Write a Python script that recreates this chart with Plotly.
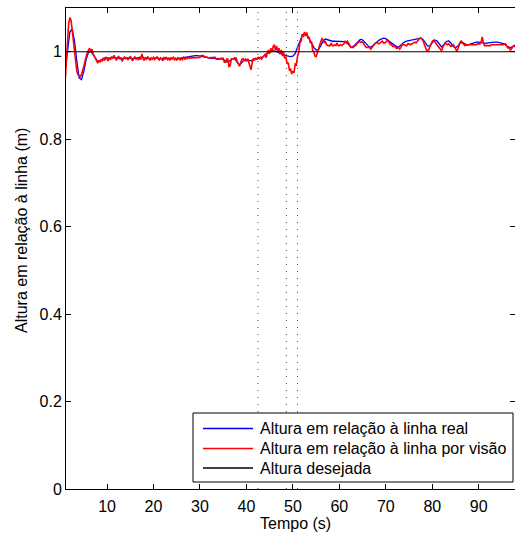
import numpy as np
import plotly.graph_objects as go

# ---- data -------------------------------------------------------------
# Height of the vehicle above the line, measured by the reference sensor
# (sampled every 0.5 s starting at t = 1.0 s)
real_t0, real_dt = 1.0, 0.5
height_real = [
    0.958, 1.005, 1.045, 1.052, 1.025, 0.978, 0.940, 0.936, 0.955, 0.982,
    0.998, 1.001, 0.993, 0.983, 0.978, 0.979, 0.983, 0.986, 0.986, 0.985,
    0.986, 0.987, 0.986, 0.985, 0.984, 0.985, 0.986, 0.986, 0.985, 0.984,
    0.985, 0.986, 0.987, 0.988, 0.986, 0.985, 0.985, 0.984, 0.985, 0.986,
    0.985, 0.984, 0.985, 0.986, 0.985, 0.985, 0.986, 0.985, 0.984, 0.985,
    0.986, 0.986, 0.987, 0.988, 0.989, 0.990, 0.991, 0.991, 0.990, 0.989,
    0.987, 0.986, 0.986, 0.985, 0.985, 0.985, 0.985, 0.984, 0.982, 0.978,
    0.976, 0.980, 0.984, 0.983, 0.976, 0.969, 0.975, 0.981, 0.982, 0.981,
    0.979, 0.982, 0.984, 0.985, 0.986, 0.988, 0.992, 0.997, 1.000, 1.003,
    1.002, 1.000, 0.998, 0.995, 0.993, 0.991, 0.990, 0.989, 0.990, 0.996,
    1.010, 1.026, 1.037, 1.041, 1.038, 1.030, 1.020, 1.010, 1.004, 1.005,
    1.014, 1.024, 1.029, 1.027, 1.025, 1.024, 1.024, 1.024, 1.024, 1.023,
    1.023, 1.022, 1.016, 1.010, 1.012, 1.018, 1.024, 1.028, 1.027, 1.022,
    1.015, 1.010, 1.012, 1.017, 1.022, 1.026, 1.029, 1.031, 1.030, 1.026,
    1.021, 1.016, 1.012, 1.010, 1.013, 1.018, 1.022, 1.024, 1.025, 1.026,
    1.027, 1.028, 1.030, 1.031, 1.028, 1.020, 1.013, 1.014, 1.021, 1.027,
    1.025, 1.017, 1.011, 1.016, 1.023, 1.025, 1.020, 1.012, 1.009, 1.013,
    1.020, 1.021, 1.017, 1.015, 1.017, 1.019, 1.021, 1.022, 1.022, 1.021,
    1.020, 1.019, 1.020, 1.021, 1.022, 1.022, 1.022, 1.021, 1.020, 1.018,
    1.013, 1.009, 1.010, 1.014, 1.016,
]

# Height estimated by the vision system (sampled every 0.25 s from t = 1.0 s)
vision_t0, vision_dt = 1.0, 0.25
height_vision = [
    0.935, 0.975, 1.030, 1.065,  1.078, 1.072, 1.050, 1.025,   # 1-2
    1.000, 0.975, 0.955, 0.948,  0.944, 0.943, 0.948, 0.956,   # 3-4
    0.966, 0.978, 0.990, 0.998,  1.003, 1.008, 1.002, 1.006,   # 5-6
    0.996, 0.990, 0.984, 0.979,  0.974, 0.980, 0.976, 0.983,   # 7-8
    0.978, 0.986, 0.980, 0.988,  0.983, 0.979, 0.987, 0.982,   # 9-10
    0.989, 0.984, 0.992, 0.985,  0.980, 0.986, 0.990, 0.983,   # 11-12
    0.987, 0.978, 0.984, 0.989,  0.983, 0.987, 0.981, 0.986,   # 13-14
    0.990, 0.984, 0.979, 0.985,  0.988, 0.983, 0.987, 0.981,   # 15-16
    0.986, 0.982, 0.995, 0.984,  0.980, 0.986, 0.983, 0.988,   # 17-18
    0.984, 0.981, 0.986, 0.983,  0.987, 0.982, 0.985, 0.988,   # 19-20
    0.985, 0.981, 0.986, 0.984,  0.979, 0.986, 0.983, 0.988,   # 21-22
    0.982, 0.985, 0.980, 0.986,  0.983, 0.987, 0.982, 0.985,   # 23-24
    0.980, 0.986, 0.984, 0.981,  0.985, 0.982, 0.987, 0.983,   # 25-26
    0.986, 0.984, 0.988, 0.985,  0.986, 0.986, 0.986, 0.986,   # 27-28
    0.987, 0.987, 0.987, 0.987,  0.987, 0.991, 0.991, 0.991,   # 29-30
    0.988, 0.988, 0.988, 0.986,  0.986, 0.986, 0.986, 0.986,   # 31-32
    0.987, 0.987, 0.983, 0.983,  0.983, 0.983, 0.985, 0.985,   # 33-34
    0.985, 0.976, 0.976, 0.983,  0.983, 0.966, 0.968, 0.984,   # 35-36
    0.984, 0.984, 0.986, 0.986,  0.978, 0.970, 0.967, 0.975,   # 37-38
    0.982, 0.984, 0.980, 0.983,  0.978, 0.984, 0.975, 0.962,   # 39-40
    0.959, 0.975, 0.985, 0.980,  0.986, 0.982, 0.988, 0.984,   # 41-42
    0.987, 0.983, 0.989, 0.991,  0.994, 0.986, 0.998, 1.004,   # 43-44
    0.995, 1.008, 0.999, 1.012,  1.016, 1.003, 1.013, 1.000,   # 45-46
    1.008, 0.994, 1.004, 0.990,  0.999, 0.985, 0.988, 0.972,   # 47-48
    0.975, 0.958, 0.960, 0.949,  0.956, 0.952, 0.972, 0.970,   # 49-50
    0.990, 0.998, 1.020, 1.024,  1.040, 1.034, 1.045, 1.036,   # 51-52
    1.044, 1.030, 1.034, 1.020,  1.024, 1.004, 1.000, 0.990,   # 53-54
    0.989, 0.995, 1.005, 1.015,  1.024, 1.030, 1.027, 1.020,   # 55-56
    1.024, 1.016, 1.014, 1.014,  1.014, 1.020, 1.014, 1.014,   # 57-58
    1.016, 1.014, 1.020, 1.014,  1.014, 1.016, 1.014, 1.016,   # 59-60
    1.018, 1.025, 1.020, 1.024,  1.018, 1.012, 1.010, 1.010,   # 61-62
    1.010, 1.014, 1.014, 1.018,  1.020, 1.024, 1.022, 1.022,   # 63-64
    1.022, 1.018, 1.014, 1.010,  1.010, 1.010, 1.010, 1.006,   # 65-66
    1.010, 1.014, 1.018, 1.020,  1.020, 1.020, 1.018, 1.020,   # 67-68
    1.024, 1.024, 1.020, 1.020,  1.022, 1.025, 1.025, 1.020,   # 69-70
    1.016, 1.016, 1.012, 1.012,  1.012, 1.008, 1.008, 1.010,   # 71-72
    1.006, 1.010, 1.016, 1.016,  1.016, 1.014, 1.014, 1.018,   # 73-74
    1.018, 1.016, 1.018, 1.020,  1.020, 1.022, 1.020, 1.024,   # 75-76
    1.028, 1.030, 1.032, 1.030,  1.026, 1.018, 1.010, 1.004,   # 77-78
    1.002, 1.005, 1.012, 1.020,  1.024, 1.026, 1.024, 1.020,   # 79-80
    1.016, 1.012, 1.008, 1.004,  1.002, 1.010, 1.016, 1.020,   # 81-82
    1.018, 1.016, 1.018, 1.014,  1.012, 1.014, 1.016, 1.012,   # 83-84
    1.008, 1.002, 1.006, 1.016,  1.022, 1.024, 1.020, 1.016,   # 85-86
    1.014, 1.016, 1.016, 1.016,  1.016, 1.016, 1.016, 1.016,   # 87-88
    1.016, 1.016, 1.016, 1.018,  1.018, 1.018, 1.022, 1.034,   # 89-90
    1.020, 1.014, 1.014, 1.014,  1.014, 1.014, 1.014, 1.016,   # 91-92
    1.016, 1.016, 1.016, 1.016,  1.016, 1.016, 1.016, 1.016,   # 93-94
    1.016, 1.016, 1.018, 1.018,  1.014, 1.008, 1.012, 1.004,   # 95-96
    1.006, 1.012, 1.014, 1.012,  1.014,                        # 97-98
]

# Desired height (set point) over the whole run
desired_height = 1.0
run_span = [1.0, 98.0]

# Instants marking phase changes of the experiment
event_times = [42.5, 48.6, 51.0]

legend_labels = [
    "Altura em relação à linha real",
    "Altura em relação à linha por visão",
    "Altura desejada",
]
x_ticks = [10, 20, 30, 40, 50, 60, 70, 80, 90]
y_ticks = [0, 0.2, 0.4, 0.6, 0.8, 1.0]
y_tick_text = ["0", "0.2", "0.4", "0.6", "0.8", "1"]

# ---- figure -----------------------------------------------------------
t_real = real_t0 + real_dt * np.arange(len(height_real))
t_vision = vision_t0 + vision_dt * np.arange(len(height_vision))

FONT = "Liberation Sans, Arial, Helvetica, sans-serif"
W, H = 515, 535
ML, MR, MT, MB = 66, 0, 8, 46
colors = ["#0000ff", "#ff0000", "#000000"]

fig = go.Figure()
fig.add_trace(go.Scatter(x=t_real, y=height_real, mode="lines",
                         line=dict(color=colors[0], width=1.3),
                         name=legend_labels[0], showlegend=False))
fig.add_trace(go.Scatter(x=t_vision, y=height_vision, mode="lines",
                         line=dict(color=colors[1], width=1.6),
                         name=legend_labels[1], showlegend=False))
fig.add_trace(go.Scatter(x=run_span, y=[desired_height] * 2, mode="lines",
                         line=dict(color=colors[2], width=1.1),
                         name=legend_labels[2], showlegend=False))

for te in event_times:
    fig.add_vline(x=te, line=dict(color="#444444", width=1, dash="1px,6px"))

# boxed legend in the lower-right corner
pw, ph = W - ML - MR, H - MT - MB
def px(xp):
    return (xp - ML) / pw
def py(yp):
    return (H - MB - yp) / ph

fig.add_shape(type="rect", xref="paper", yref="paper",
              x0=px(193), x1=px(513), y0=py(482), y1=py(413),
              line=dict(color="black", width=1), fillcolor="white", layer="above")
for i, (lab, col) in enumerate(zip(legend_labels, colors)):
    yrow = [428.5, 448.5, 468.0][i]
    fig.add_shape(type="line", xref="paper", yref="paper",
                  x0=px(203), x1=px(253), y0=py(yrow), y1=py(yrow),
                  line=dict(color=col, width=1.3), layer="above")
    fig.add_annotation(x=px(258), y=py(yrow), xref="paper", yref="paper",
                       text=lab, showarrow=False, xanchor="left", yanchor="middle",
                       font=dict(family=FONT, size=16, color="black"))

# axis titles
fig.add_annotation(x=px(295), y=py(523), xref="paper", yref="paper",
                   text="Tempo (s)", showarrow=False, xanchor="center", yanchor="middle",
                   font=dict(family=FONT, size=16, color="black"))
fig.add_annotation(x=px(22), y=py(231), xref="paper", yref="paper",
                   text="Altura em relação à linha (m)", showarrow=False, textangle=-90,
                   xanchor="center", yanchor="middle",
                   font=dict(family=FONT, size=16, color="black"))

axis_common = dict(showline=True, linecolor="black", linewidth=1, mirror="allticks",
                   ticks="inside", ticklen=5, tickcolor="black", tickwidth=1,
                   showgrid=False, zeroline=False,
                   tickfont=dict(family=FONT, size=16, color="black"))
fig.update_xaxes(range=[1.17, 97.8], tickvals=x_ticks, ticklabelstandoff=3, **axis_common)
fig.update_yaxes(range=[0, 1.1], tickvals=y_ticks, ticktext=y_tick_text, **axis_common)

fig.update_layout(width=W, height=H, margin=dict(l=ML, r=MR, t=MT, b=MB),
                  paper_bgcolor="white", plot_bgcolor="white",
                  font=dict(family=FONT, size=16, color="black"))

fig.write_html("out.html")
